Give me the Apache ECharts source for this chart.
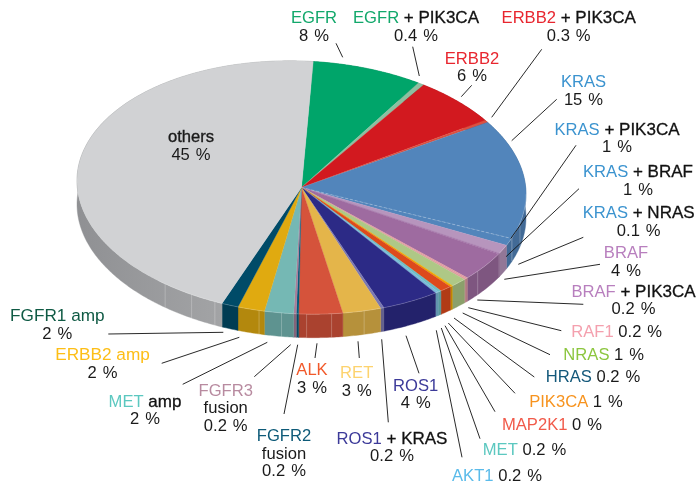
<!DOCTYPE html>
<html><head><meta charset="utf-8">
<style>html,body{margin:0;padding:0;background:#fff}#c{width:697px;height:484px}</style>
<script src="https://cdn.jsdelivr.net/npm/echarts@6/dist/echarts.min.js"></script>
</head><body><div id="c"></div>
<script>
// ---- data, clockwise from the top of the pie ----
const names = ['EGFR','EGFR','ERBB2','ERBB2','KRAS','KRAS','KRAS','KRAS','BRAF','BRAF','RAF1','NRAS','HRAS','PIK3CA','MAP2K1','MET','AKT1','ROS1','ROS1','RET','ALK','FGFR2','FGFR3','MET','ERBB2 amp','FGFR1 amp','others'];
const suffixes = ['',' + PIK3CA','',' + PIK3CA','',' + PIK3CA',' + BRAF',' + NRAS','',' + PIK3CA','','','','','','','','',' + KRAS','','','fusion','fusion',' amp','','',''];
const percentTexts = ['8 %','0.4 %','6 %','0.3 %','15 %','1 %','1 %','0.1 %','4 %','0.2 %','0.2 %','1 %','0.2 %','1 %','0 %','0.2 %','0.2 %','4 %','0.2 %','3 %','3 %','0.2 %','0.2 %','2 %','2 %','2 %','45 %'];
// slice sizes (percent of the turn)
const shares = [7.86,0.44,6.08,0.31,15.17,0.94,1.14,0.11,3.83,0.15,0.15,1.19,0.19,0.86,0.02,0.24,0.24,4.19,0.25,2.78,3.14,0.17,0.19,2.08,1.92,1.19,45.0];
const sliceColors = ['#00A56A','#8CC0A0','#D2191F','#DC5040','#5285BB','#5285BB','#B795BD','#A070A5','#9E6BA0','#E09AA0','#E09AA0','#AEC886','#F0A800','#DD4A1C','#DD4A1C','#6DBFC4','#79B9D9','#2C2A86','#7B78B2','#E4B54A','#D5533B','#005A7A','#A97D99','#75B8B4','#E0AA10','#004B68','#D1D2D4'];
const nameColors = ['#12A86B','#12A86B','#E8262F','#E8262F','#3B93CF','#3B93CF','#3B93CF','#3B93CF','#B87FBE','#B87FBE','#F4A0AE','#8CC63F','#13587A','#F7931E','#F15A4A','#5CC8C0','#5ABBEA','#3C3A99','#3C3A99','#FDD36E','#F1592A','#0D5A78','#B88BA0','#5CC8C0','#FDBE16','#0F5A44','#1a1a1a'];

// ---- pie geometry and annotation layout ----
const CX = 301.5, CY = 187.5, RX = 224.5, RY = 126.5, SKEW = 0.03, DEPTH = 23.5, START = 3;
const seamAngles = [103.3,110.3,128.3,163.8,172.3,178.7,185.1,190.9,202.7,209.3,217.4];
const labelPos = [[314,26.5],[416,26.5],[472,67],[568.7,26.5],[583.5,90.5],[617,138],[638,180.5],[638.7,221.7],[626,261.5],[633.5,300],[616.7,331.7,1],[603.7,354.7,1],[593,376.7,1],[576,402,1],[552,424.7,1],[524.5,450,1],[497,476,1],[415.7,394],[392,447],[356.7,381.5],[312,378.5],[284,453.3],[225.7,408],[145,410],[102.5,363.5],[57.3,324.5],[191,145.5]];
const leaders = [[336,43.3,342.7,57.3],[412.7,46.7,419.3,76],[471.7,85.3,461.3,96.7],[541.7,49.3,491.7,117.3],[556.7,99.3,511.7,140.7],[576,145.3,510.7,238.7],[579,188.7,506,256.7],[583.3,237.3,518.3,264.3],[600,264.3,504.3,279.3],[583.3,304.3,477.3,300],[561.3,330.7,468.3,307.7],[550,354.7,462.7,313],[534.3,377,454,318],[515,393.3,448.3,323],[495,411.7,445,325.7],[480,438.7,441.3,328],[462,457.3,436.3,330.3],[419,373.3,406,335.7],[388.3,422.3,381.7,339.3],[359.3,358,358,341.3],[315,358,317,343.3],[284,414,297.7,344.7],[254.3,376.7,290.7,344.7],[182.7,384.3,267.3,342.3],[161.7,363.3,239.3,337.3],[108.3,334,223.3,332.3]];

const total = shares.reduce((a,b)=>a+b,0);
const starts = []; shares.reduce((acc,s,i)=>{starts[i]=acc;return acc+s;},0);
const angleOf = p => (START + p/total*360)*Math.PI/180;
const pt = (t,d=0)=>[CX+RX*Math.sin(t), CY-RY*Math.cos(t)+SKEW*RX*Math.sin(t)+d];
function arc(a,b,d=0){const n=Math.max(2,Math.ceil(Math.abs(b-a)/0.01));const o=[];for(let i=0;i<=n;i++)o.push(pt(a+(b-a)*i/n,d));return o;}
function darken(hex,f){const v=parseInt(hex.slice(1),16);return 'rgb('+[(v>>16)&255,(v>>8)&255,v&255].map(c=>Math.round(c*f)).join(',')+')';}

const sideItem = (params,api)=>{
  const i=api.value(0), a=angleOf(starts[i]), b=angleOf(starts[i]+shares[i]);
  const pts=arc(a,b,0).concat(arc(b,a,DEPTH));
  const fill = i===shares.length-1
    ? {type:'linear',x:75,y:0,x2:225,y2:0,global:true,colorStops:[{offset:0,color:'#8F9093'},{offset:1,color:'#A3A4A6'}]}
    : darken(sliceColors[i],0.8);
  return {type:'polygon',shape:{points:pts},style:{fill,stroke:fill,lineWidth:0.4}};
};
const topItem = (params,api)=>{
  const i=api.value(0), a=angleOf(starts[i]), b=angleOf(starts[i]+shares[i]);
  const pts=[[CX,CY]].concat(arc(a,b,0));
  return {type:'polygon',shape:{points:pts},style:{fill:sliceColors[i],stroke:sliceColors[i],lineWidth:0.3}};
};
const seamItem = (params,api)=>{
  const t=api.value(0)*Math.PI/180, p=pt(t,0), q=pt(t,DEPTH);
  return {type:'line',shape:{x1:p[0],y1:p[1],x2:q[0],y2:q[1]},style:{stroke:'rgba(255,255,255,0.3)',lineWidth:0.8}};
};
const rimItem = ()=>({type:'polyline',shape:{points:arc(Math.PI*0.5,Math.PI*1.22,0)},style:{fill:null,stroke:'rgba(255,255,255,0.28)',lineWidth:0.7}});
const dashItem = ()=>{const t=angleOf(starts[5]),p=pt(t);return {type:'line',shape:{x1:CX,y1:CY,x2:p[0],y2:p[1]},style:{stroke:'rgba(255,255,255,0.4)',lineWidth:0.7,lineDash:[3,2]}};};

const FONT='"Liberation Sans", Arial, sans-serif', WIDE=' \u200A';
const graphicEls=[];
leaders.forEach(l=>graphicEls.push({type:'line',silent:true,z:10,shape:{x1:l[0],y1:l[1],x2:l[2],y2:l[3]},style:{stroke:'#111',lineWidth:0.9}}));
names.forEach((n,i)=>{
  const pos=labelPos[i], inline=pos[2]===1, pct=percentTexts[i].replace(' ',WIDE);
  const isOthers=n==='others';
  const base={fontFamily:FONT,fontSize:16.6,lineHeight:17.5};
  const rich={
    n:Object.assign({},base,{fill:nameColors[i]},isOthers?{stroke:'#1a1a1a',lineWidth:0.35}:{}, n.indexOf(' amp')>0?{fontSize:17.2}:{}),
    k:Object.assign({},base,{fill:'#111',stroke:'#111',lineWidth:0.3,fontSize:17}),
    f:Object.assign({},base,{fill:'#1a1a1a'}),
    v:Object.assign({},base,{fill:'#1a1a1a'})
  };
  let head='{n|'+n+'}';
  let lines=[];
  if(suffixes[i]==='fusion'){lines=[head,'{f|fusion}','{v|'+pct+'}'];}
  else{
    if(suffixes[i])head+='{k|'+suffixes[i]+'}';
    lines=inline?[head+'{v| '+pct+'}']:[head,'{v|'+pct+'}'];
  }
  graphicEls.push({type:'text',silent:true,z:11,x:pos[0],y:pos[1]+0.8,style:{text:lines.join('\n'),rich,align:'center',verticalAlign:'middle',fontFamily:FONT,fontSize:16}});
});

const chart=echarts.init(document.getElementById('c'),null,{renderer:'canvas',width:697,height:484});
const indexData=shares.map((s,i)=>[i,s]);
const base={type:'custom',coordinateSystem:'none',silent:true,animation:false};
chart.setOption({
  animation:false,backgroundColor:'#fff',
  series:[
    Object.assign({},base,{z:1,data:indexData,renderItem:sideItem}),
    Object.assign({},base,{z:2,data:seamAngles.map(a=>[a]),renderItem:seamItem}),
    Object.assign({},base,{z:3,data:indexData,renderItem:topItem}),
    Object.assign({},base,{z:4,data:[[0]],renderItem:rimItem}),
    Object.assign({},base,{z:4,data:[[0]],renderItem:dashItem})
  ],
  graphic:{elements:graphicEls}
});
</script></body></html>
